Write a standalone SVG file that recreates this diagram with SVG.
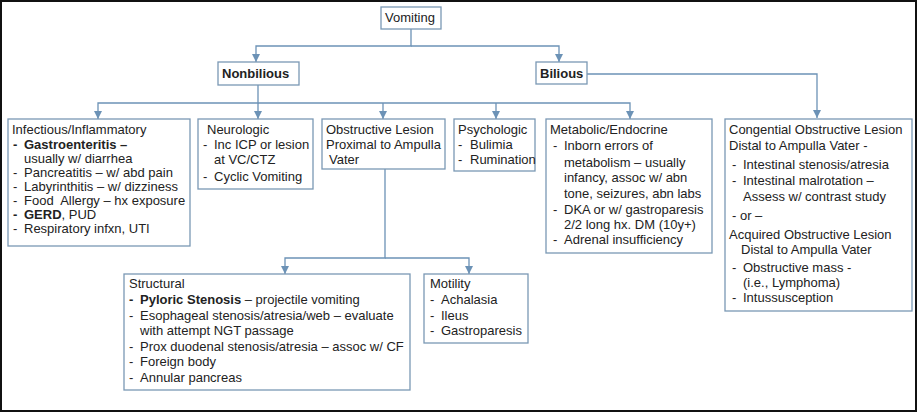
<svg xmlns="http://www.w3.org/2000/svg" width="918" height="413" viewBox="0 0 918 413">
<style>
.b{fill:#fff;stroke:#7a98b4;stroke-width:1.3}
text{font-family:"Liberation Sans",Arial,sans-serif;font-size:13px;fill:#222}
.t{font-weight:bold}
.c{fill:none;stroke:#6c92b6;stroke-width:1.3}
</style>
<defs><marker id="a" viewBox="0 0 10 10" refX="10" refY="5" markerWidth="8" markerHeight="8" markerUnits="userSpaceOnUse" orient="auto"><path d="M0,0L10,5L0,10z" fill="#6c92b6"/></marker></defs>
<rect x="1" y="1" width="915" height="410" fill="#fff" stroke="#111" stroke-width="2"/>
<g id="connectors" class="c">
<path d="M411,29V46H256V62" marker-end="url(#a)"/>
<path d="M411,46H559V62" marker-end="url(#a)"/>
<path d="M258,85V103H98V119" marker-end="url(#a)"/>
<path d="M258,103V119" marker-end="url(#a)"/>
<path d="M258,103H630V119" marker-end="url(#a)"/>
<path d="M383,103V119" marker-end="url(#a)"/>
<path d="M496,103V119" marker-end="url(#a)"/>
<path d="M587,74H817V118" marker-end="url(#a)"/>
<path d="M385,169V258H285V274" marker-end="url(#a)"/>
<path d="M385,258H469V274" marker-end="url(#a)"/>
</g>
<g id="vomiting"><rect class="b" x="381" y="7" width="60" height="22"/><text x="385" y="22">Vomiting</text></g>
<g id="nonbilious"><rect class="b" x="218" y="62" width="81" height="23"/><text class="t" x="222" y="78">Nonbilious</text></g>
<g id="bilious"><rect class="b" x="536" y="62" width="51" height="22"/><text class="t" x="540" y="78">Bilious</text></g>
<g id="infectious"><rect class="b" x="8" y="119" width="182" height="127"/>
<text x="12" y="134">Infectious/Inflammatory</text>
<text x="13" y="149"><tspan class="t">- </tspan><tspan x="24" class="t">Gastroenteritis –</tspan></text>
<text x="24" y="163">usually w/ diarrhea</text>
<text x="13" y="177">- <tspan x="24">Pancreatitis – w/ abd pain</tspan></text>
<text x="13" y="191">- <tspan x="24">Labyrinthitis – w/ dizziness</tspan></text>
<text x="13" y="205" xml:space="preserve">- <tspan x="24">Food  Allergy – hx exposure</tspan></text>
<text x="13" y="219"><tspan class="t">- </tspan><tspan x="24"><tspan class="t">GERD</tspan>, PUD</tspan></text>
<text x="13" y="233">- <tspan x="24">Respiratory infxn, UTI</tspan></text></g>
<g id="neurologic"><rect class="b" x="198" y="119" width="115" height="70"/>
<text x="207" y="134">Neurologic</text>
<text x="203" y="149">- <tspan x="214">Inc ICP or lesion</tspan></text>
<text x="214" y="164">at VC/CTZ</text>
<text x="203" y="181">- <tspan x="214">Cyclic Vomiting</tspan></text></g>
<g id="obstructive"><rect class="b" x="322" y="119" width="123" height="50"/>
<text x="326" y="134">Obstructive Lesion</text>
<text x="326" y="149">Proximal to Ampulla</text>
<text x="329" y="164">Vater</text></g>
<g id="psychologic"><rect class="b" x="454" y="119" width="81" height="52"/>
<text x="458" y="134">Psychologic</text>
<text x="458" y="149">- <tspan x="470">Bulimia</tspan></text>
<text x="458" y="164">- <tspan x="470">Rumination</tspan></text></g>
<g id="metabolic"><rect class="b" x="546" y="119" width="166" height="134"/>
<text x="550" y="134">Metabolic/Endocrine</text>
<text x="553" y="150">- <tspan x="564">Inborn errors of</tspan></text>
<text x="564" y="167">metabolism – usually</text>
<text x="564" y="182">infancy, assoc w/ abn</text>
<text x="564" y="198">tone, seizures, abn labs</text>
<text x="553" y="214">- <tspan x="564">DKA or w/ gastroparesis</tspan></text>
<text x="564" y="229">2/2 long hx. DM (10y+)</text>
<text x="553" y="244">- <tspan x="564">Adrenal insufficiency</tspan></text></g>
<g id="congenital"><rect class="b" x="725" y="119" width="187" height="192"/>
<text x="729" y="134">Congential Obstructive Lesion</text>
<text x="729" y="150">Distal to Ampulla Vater -</text>
<text x="732" y="169">- <tspan x="743">Intestinal stenosis/atresia</tspan></text>
<text x="732" y="185">- <tspan x="743">Intestinal malrotation –</tspan></text>
<text x="743" y="201">Assess w/ contrast study</text>
<text x="732" y="220">- or –</text>
<text x="729" y="239">Acquired Obstructive Lesion</text>
<text x="741" y="254">Distal to Ampulla Vater</text>
<text x="732" y="272">- <tspan x="743">Obstructive mass -</tspan></text>
<text x="743" y="287">(i.e., Lymphoma)</text>
<text x="732" y="302">- <tspan x="743">Intussusception</tspan></text></g>
<g id="structural"><rect class="b" x="124" y="274" width="286" height="116"/>
<text x="129" y="288">Structural</text>
<text x="129" y="304"><tspan class="t">- </tspan><tspan x="140"><tspan class="t">Pyloric Stenosis</tspan> – projectile vomiting</tspan></text>
<text x="129" y="320">- <tspan x="140">Esophageal stenosis/atresia/web – evaluate</tspan></text>
<text x="140" y="335">with attempt NGT passage</text>
<text x="129" y="351">- <tspan x="140">Prox duodenal stenosis/atresia – assoc w/ CF</tspan></text>
<text x="129" y="366">- <tspan x="140">Foreign body</tspan></text>
<text x="129" y="382">- <tspan x="140">Annular pancreas</tspan></text></g>
<g id="motility"><rect class="b" x="424" y="274" width="104" height="69"/>
<text x="430" y="288">Motility</text>
<text x="430" y="304">- <tspan x="441">Achalasia</tspan></text>
<text x="430" y="320">- <tspan x="441">Ileus</tspan></text>
<text x="430" y="335">- <tspan x="441">Gastroparesis</tspan></text></g>
</svg>
